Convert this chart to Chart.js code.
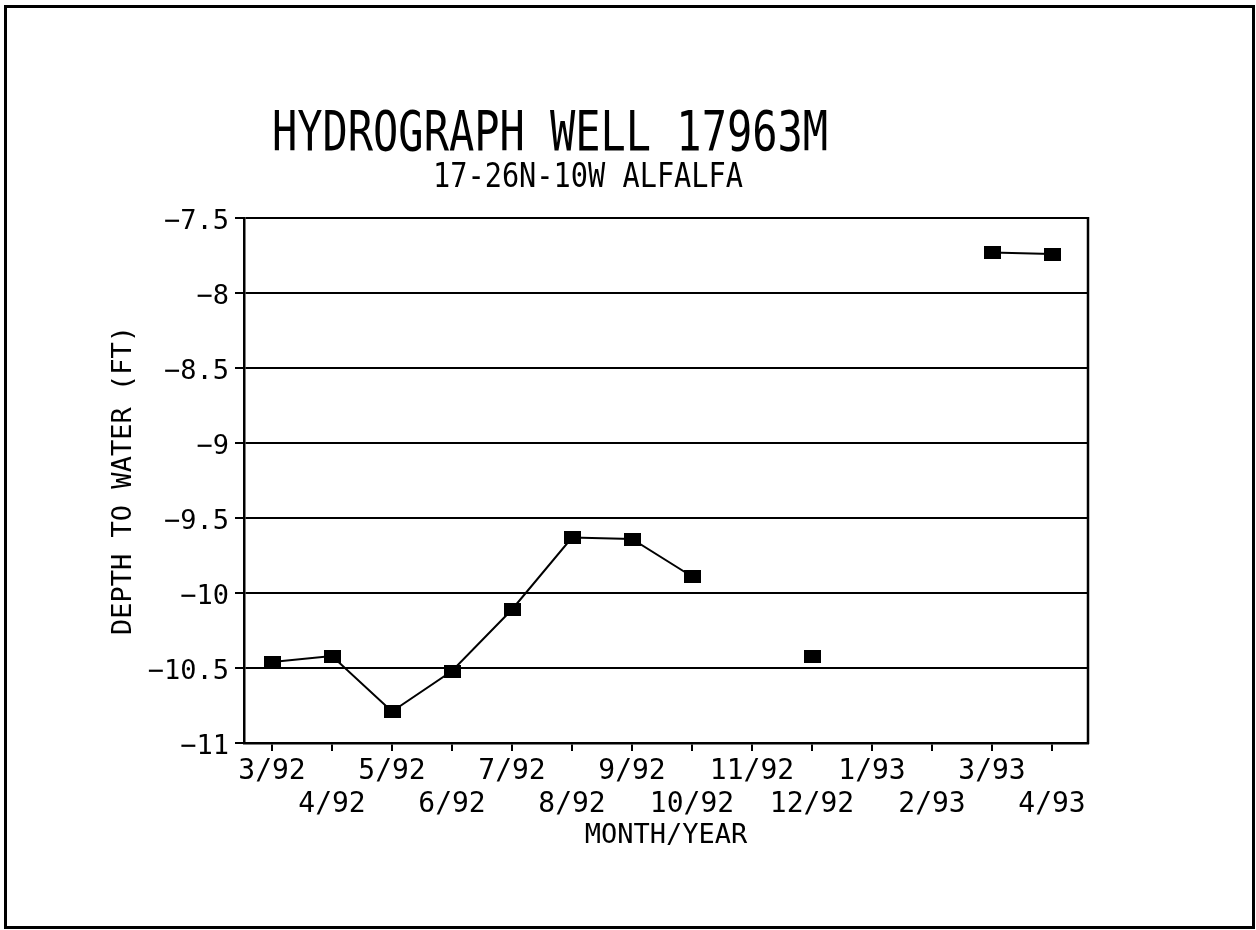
<!DOCTYPE html>
<html>
<head>
<meta charset="utf-8">
<script src="https://cdn.jsdelivr.net/npm/chart.js@4/dist/chart.umd.min.js"></script>
<style>
  html, body { margin: 0; padding: 0; background: #fff; }
  #wrap { position: relative; width: 1256px; height: 930px; overflow: hidden; }
  #frame { position: absolute; left: 4px; top: 5px; width: 1251px; height: 924px; border: 3px solid #000; box-sizing: border-box; pointer-events: none; }
  canvas { position: absolute; left: 0; top: 0; }
</style>
</head>
<body>
<div id="wrap">
  <canvas id="c" width="1256" height="930"></canvas>
  <div id="frame"></div>
</div>
<script>
// ---- data ----
const categories = ['3/92','4/92','5/92','6/92','7/92','8/92','9/92','10/92','11/92','12/92','1/93','2/93','3/93','4/93'];
const depthToWater = [-10.46, -10.42, -10.79, -10.52, -10.11, -9.63, -9.64, -9.89, null, -10.42, null, null, -7.73, -7.74];
const yTickValues = [-11, -10.5, -10, -9.5, -9, -8.5, -8, -7.5];
const titleText = 'HYDROGRAPH WELL 17963M';
const subtitleText = '17-26N-10W ALFALFA';
const yAxisTitle = 'DEPTH TO WATER (FT)';
const xAxisTitle = 'MONTH/YEAR';

const points = categories.map((c, i) => ({ x: i, y: depthToWater[i] }));

// filled rectangle marker
const marker = document.createElement('canvas');
marker.width = 17; marker.height = 13;
(function(){ const m = marker.getContext('2d'); m.fillStyle = '#000'; m.fillRect(0, 0, 17, 13); })();

const MONO = "'DejaVu Sans Mono'";

const headings = {
  id: 'headings',
  afterDraw(chart, args, opts) {
    const ctx = chart.ctx;
    opts.lines.forEach(l => {
      ctx.save();
      ctx.font = l.font;
      ctx.fillStyle = '#000';
      ctx.textAlign = 'left';
      ctx.textBaseline = 'alphabetic';
      const w = ctx.measureText(l.text).width;
      ctx.translate(l.left, l.baseline);
      ctx.scale(l.width / w, 1);
      ctx.fillText(l.text, 0, 0);
      ctx.restore();
    });
    // right edge of the plot box
    const a = chart.chartArea;
    ctx.save();
    ctx.strokeStyle = '#000';
    ctx.lineWidth = 2.5;
    ctx.beginPath();
    ctx.moveTo(a.right, a.top - 1);
    ctx.lineTo(a.right, a.bottom + 1);
    ctx.stroke();
    ctx.restore();
  }
};

new Chart(document.getElementById('c'), {
  type: 'line',
  data: {
    datasets: [{
      data: points,
      borderColor: '#000',
      backgroundColor: '#000',
      borderWidth: 2,
      pointStyle: marker,
      pointRadius: 9,
      spanGaps: false,
      tension: 0,
      fill: false
    }]
  },
  plugins: [headings],
  options: {
    responsive: false,
    devicePixelRatio: 1,
    animation: false,
    layout: { padding: { left: 0, right: 168, top: 218, bottom: 0 } },
    plugins: {
      legend: { display: false },
      tooltip: { enabled: false },
      headings: {
        lines: [
          { text: titleText, font: "56px " + MONO, left: 272, baseline: 150, width: 556 },
          { text: subtitleText, font: "33px " + MONO, left: 433, baseline: 187, width: 310 }
        ]
      }
    },
    scales: {
      x: {
        type: 'linear',
        min: -28 / 60,
        max: 13.6,
        afterBuildTicks(s) { s.ticks = categories.map((c, i) => ({ value: i })); },
        afterFit(s) { s.height = 187; },
        ticks: {
          autoSkip: false, maxRotation: 0, minRotation: 0,
          color: '#000',
          font: { family: MONO, size: 28, lineHeight: 33 / 28 },
          padding: 4,
          callback(v) { const i = Math.round(v); return i % 2 === 0 ? [categories[i], ''] : ['', categories[i]]; }
        },
        grid: { display: true, drawOnChartArea: false, drawTicks: true, tickLength: 8, color: '#000', lineWidth: 2 },
        border: { color: '#000', width: 2.5 },
        title: { display: true, text: xAxisTitle, color: '#000', font: { family: MONO, size: 27 }, padding: { top: 0, bottom: 78 } }
      },
      y: {
        min: -11,
        max: -7.5,
        afterBuildTicks(s) { s.ticks = yTickValues.map(v => ({ value: v })); },
        afterFit(s) { s.width = 244; },
        ticks: {
          color: '#000',
          font: { family: MONO, size: 27 },
          padding: 6,
          labelOffset: 4,
          callback(v) { return (v < 0 ? '\u2212' : '') + Math.abs(v); }
        },
        grid: { color: '#000', lineWidth: 2, tickLength: 9, drawTicks: true },
        border: { color: '#000', width: 2.5 },
        title: { display: true, text: yAxisTitle, color: '#000', font: { family: MONO, size: 27 }, padding: { top: 108, bottom: 0 } }
      }
    }
  }
});
</script>
</body>
</html>
